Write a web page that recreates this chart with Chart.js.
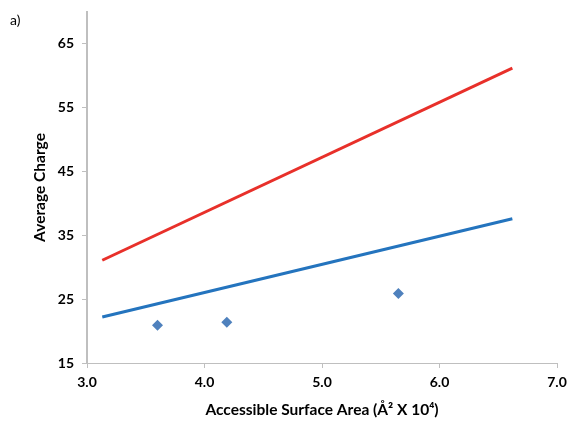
<!DOCTYPE html>
<html><head><meta charset="utf-8">
<script src="https://cdn.jsdelivr.net/npm/chart.js@4"></script>
<style>
html,body{margin:0;padding:0;background:#fff;}
#wrap{position:relative;width:572px;height:421px;}
#lbl{position:absolute;left:10px;top:11px;font-family:Lato,"Liberation Sans",sans-serif;font-size:14px;color:#000;}
</style></head>
<body>
<div id="wrap"><canvas id="c" width="572" height="421"></canvas><div id="lbl">a)</div></div>
<script>
const xTicks = [3, 4, 5, 6, 7];
const yTicks = [15, 25, 35, 45, 55, 65];
const pointsX = [3.6, 4.19, 5.65];
const pointsY = [20.9, 21.4, 25.9];
const redLineX = [3.13, 6.62];
const redLineY = [31.1, 61.2];
const blueLineX = [3.13, 6.62];
const blueLineY = [22.2, 37.6];

const zip = (xs, ys) => xs.map((x, i) => ({x: x, y: ys[i]}));
const FONT = 'Lato, "Liberation Sans", sans-serif';

new Chart(document.getElementById('c'), {
  type: 'scatter',
  data: {
    datasets: [
      {data: zip(redLineX, redLineY), showLine: true, borderColor: '#E8302A', borderWidth: 3, pointRadius: 0, fill: false},
      {data: zip(blueLineX, blueLineY), showLine: true, borderColor: '#2474BE', borderWidth: 3, pointRadius: 0, fill: false},
      {data: zip(pointsX, pointsY), pointStyle: 'rectRot', pointRadius: 5.5, backgroundColor: '#4F81BD', borderColor: '#4F81BD', borderWidth: 0}
    ]
  },
  options: {
    responsive: false,
    animation: false,
    devicePixelRatio: 1,
    layout: {padding: {left: 0, right: 15, top: 12, bottom: 0}},
    plugins: {legend: {display: false}, tooltip: {enabled: false}},
    scales: {
      x: {
        type: 'linear', min: 3, max: 7,
        afterBuildTicks: s => { s.ticks = xTicks.map(v => ({value: v})); },
        afterFit: s => { s.height = 58; s.paddingLeft = 0; s.paddingRight = 0; s.paddingTop = 0; s.paddingBottom = 0; },
        grid: {display: true, drawOnChartArea: false, drawTicks: true, tickLength: 5, color: '#BFBFBF'},
        border: {color: '#BFBFBF', width: 1},
        ticks: {color: '#000', font: {family: FONT, size: 14, weight: 'bold'}, padding: 6, callback: v => Number(v).toFixed(1)},
        title: {display: true, text: 'Accessible Surface Area (Å² X 10⁴)', color: '#000', font: {family: FONT, size: 15.5, weight: 'bold'}, padding: {top: 0, bottom: 2}}
      },
      y: {
        type: 'linear', min: 15, max: 70,
        afterBuildTicks: s => { s.ticks = yTicks.map(v => ({value: v})); },
        afterFit: s => { s.width = 87; s.paddingTop = 0; s.paddingBottom = 0; s.paddingLeft = 0; s.paddingRight = 0; },
        grid: {display: true, drawOnChartArea: false, drawTicks: true, tickLength: 5, color: '#BFBFBF'},
        border: {color: '#BFBFBF', width: 2},
        ticks: {color: '#000', font: {family: FONT, size: 14, weight: 'bold'}, padding: 8},
        title: {display: true, text: 'Average Charge', color: '#000', font: {family: FONT, size: 15.5, weight: 'bold'}, padding: {top: 31, bottom: 0}}
      }
    }
  }
});
</script>
</body></html>
